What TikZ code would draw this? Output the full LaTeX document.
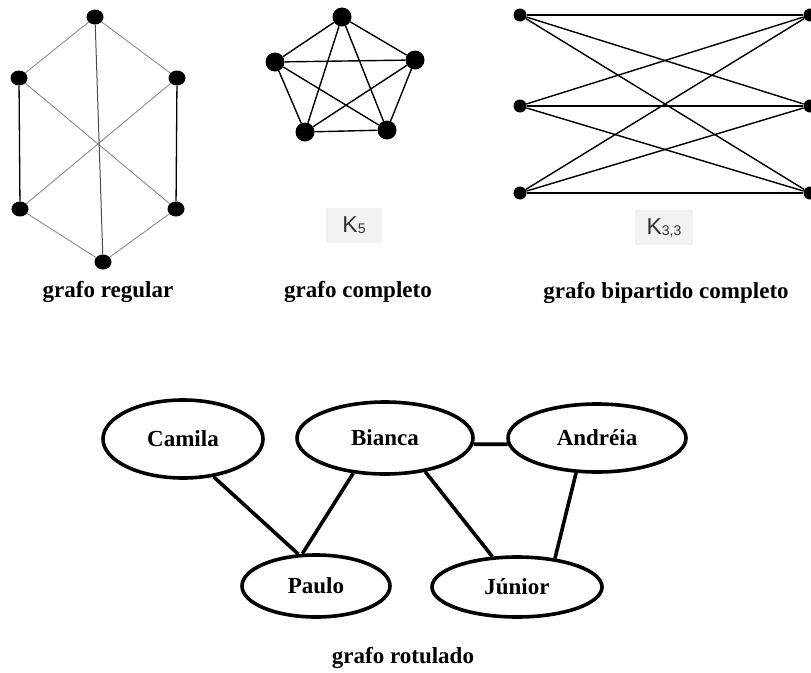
\documentclass[tikz,border=0pt]{standalone}
\usepackage{fontspec}
\setmainfont{Liberation Serif}
\newfontfamily\ksans{Liberation Sans}
\usepackage{tikz}
\usetikzlibrary{shapes.geometric}
\usepackage{xcolor}

\begin{document}
\begin{tikzpicture}[x=1pt,y=-1pt,
hexdot/.style={ellipse,fill=black,inner sep=0pt,minimum width=17pt,minimum height=15pt},
kdot/.style={circle,fill=black,inner sep=0pt,minimum size=19pt},
bdot/.style={circle,fill=black,inner sep=0pt,minimum size=13pt},
hexline/.style={draw=black!45,line width=0.9pt},
hexbar/.style={draw=black,line width=1.3pt},
kline/.style={draw=black,line width=1.4pt},
ktag/.style={fill=black!5,text=black!80,inner sep=0pt,minimum height=35pt,font=\ksans\fontsize{23}{27}\selectfont},
caption/.style={font=\fontsize{23}{27}\selectfont\bfseries},
person/.style={ellipse,draw,line width=3.6pt,inner sep=0pt,font=\fontsize{23}{27}\selectfont\bfseries},
link/.style={line width=3.6pt},
]
\useasboundingbox (0,0) rectangle (811,672);

% grafo regular
\node [hexdot] (R1) at (95,17) {};
\node [hexdot] (R2) at (177,78) {};
\node [hexdot] (R3) at (176,209) {};
\node [hexdot] (R4) at (103,262) {};
\node [hexdot] (R5) at (20,209) {};
\node [hexdot] (R6) at (19,78) {};

\draw [hexline] (R1) -- (R2);
\draw [hexline] (R1) -- (R6);
\draw [hexline] (R3) -- (R4);
\draw [hexline] (R4) -- (R5);
\draw [hexline] (R6) -- (R3);
\draw [hexline] (R2) -- (R5);
\draw [hexbar] (R2) -- (R3);
\draw [hexbar] (R6) -- (R5);
\draw [draw=black!70,line width=1pt] (R1) -- (R4);

\node [caption] (Regular) at (108,292) {grafo regular};

% grafo completo
\node [kdot] (C1) at (342,17) {};
\node [kdot] (C2) at (415,60) {};
\node [kdot] (C3) at (387,130) {};
\node [kdot] (C4) at (305,132) {};
\node [kdot] (C5) at (275,62) {};

\foreach \va in {C2, C3, C4, C5}
{
\draw [kline] (C1) -- (\va);
}
\foreach \vb in {C3, C4, C5}
{
\draw [kline] (C2) -- (\vb);
}
\foreach \vc in {C4, C5}
{
\draw [kline] (C3) -- (\vc);
}
\draw [kline] (C4) -- (C5);

\node [ktag,minimum width=56pt] (Kfive) at (354,225) {K\raisebox{-1pt}{\fontsize{14}{16}\selectfont 5}};
\node [caption] (Completo) at (358,292) {grafo completo};

% grafo bipartido completo
\node [bdot] (A1) at (520,15) {};
\node [bdot] (A2) at (520,106) {};
\node [bdot] (A3) at (520,193) {};
\node [bdot] (B1) at (810,15) {};
\node [bdot] (B2) at (810,106) {};
\node [bdot] (B3) at (810,193) {};

\foreach \va in {A1, A2, A3}
{
\foreach \vb in {B1, B2, B3}
{
\draw [kline] (\va) -- (\vb);
}
}

\node [ktag,minimum width=58pt] (Kthree) at (664,227.5) {K\raisebox{-1pt}{\fontsize{14}{16}\selectfont 3,3}};
\node [caption] (Bipartido) at (666,293) {grafo bipartido completo};

% grafo rotulado
\node [person,minimum width=160pt,minimum height=78pt] (Camila) at (183,439) {Camila};
\node [person,minimum width=176pt,minimum height=72pt] (Bianca) at (385,438) {Bianca};
\node [person,minimum width=178pt,minimum height=68pt] (Andreia) at (597,438) {Andréia};
\node [person,minimum width=148pt,minimum height=62pt] (Paulo) at (316,586) {Paulo};
\node [person,minimum width=170pt,minimum height=60pt] (Junior) at (517,587) {Júnior};

\draw [link] (Camila.309) -- (Paulo.119);
\draw [link] (Bianca.228) -- (Paulo.113);
\draw [link] (Bianca.320) -- (Junior.129);
\draw [link] (Bianca.-4.5) -- (Andreia.184.5);
\draw [link] (Andreia.239.5) -- (Junior.37);

\node [caption] (Rotulado) at (403,658) {grafo rotulado};

\end{tikzpicture}
\end{document}
